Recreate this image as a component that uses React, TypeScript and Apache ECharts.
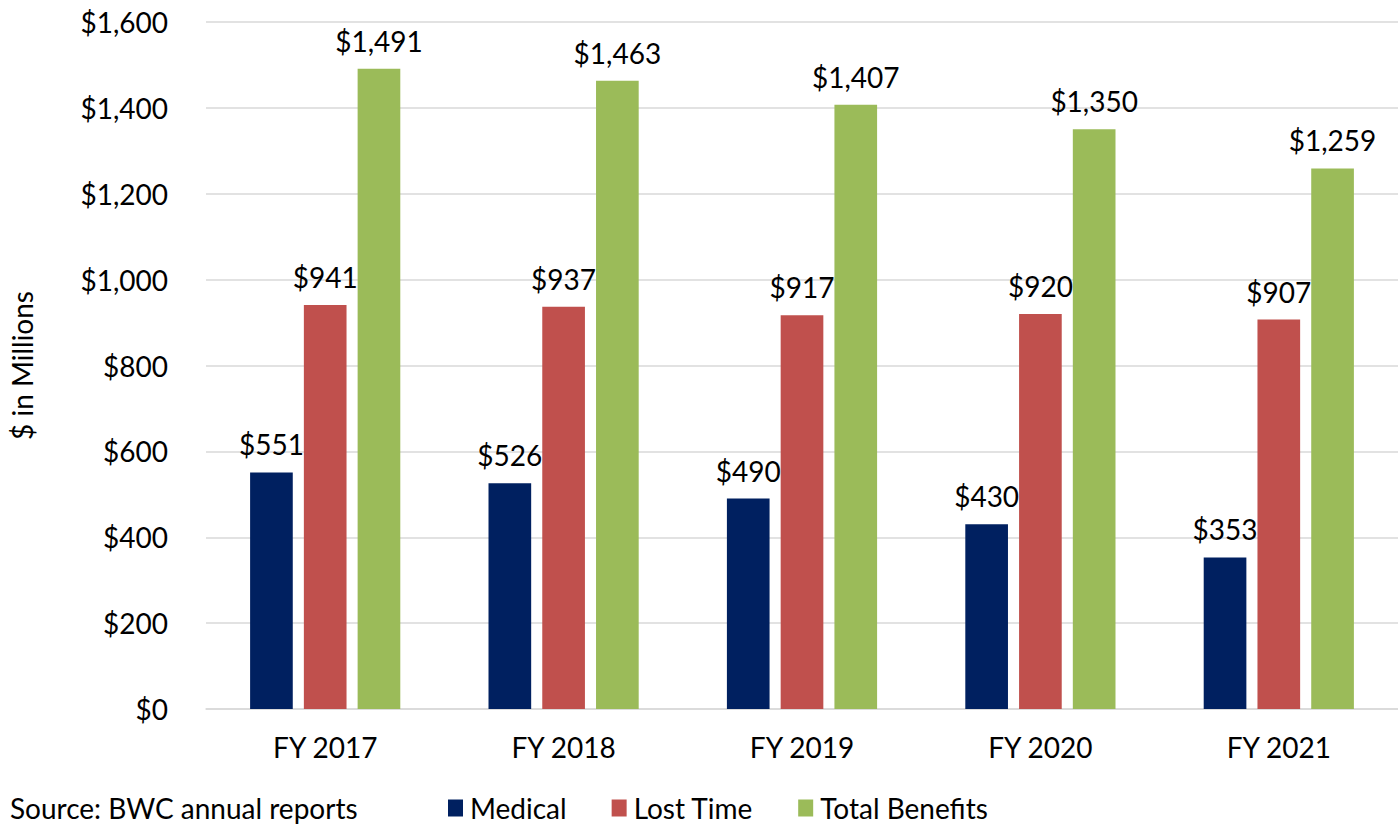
import React, { useEffect, useRef } from "react";
import * as echarts from "echarts";

const categories = ["FY 2017", "FY 2018", "FY 2019", "FY 2020", "FY 2021"];
const medical = [551, 526, 490, 430, 353];
const lostTime = [941, 937, 917, 920, 907];
const totalBenefits = [1491, 1463, 1407, 1350, 1259];
const seriesNames = ["Medical", "Lost Time", "Total Benefits"];
const colors = ["#002060", "#C0504D", "#9BBB59"];
const sourceText = "Source: BWC annual reports";
const yAxisName = "$ in Millions";

const FONT = "Lato, 'Open Sans', sans-serif";
const fmt = (v: number) => "$" + v.toLocaleString("en-US");

export default function App() {
  const ref = useRef<HTMLDivElement>(null);
  useEffect(() => {
    if (!ref.current) return;
    const chart = echarts.init(ref.current, null, { renderer: "svg" });
    const data = [medical, lostTime, totalBenefits];
    chart.setOption({
      animation: false,
      backgroundColor: "#ffffff",
      textStyle: { fontFamily: FONT },
      grid: { left: 206, right: 0, top: 22, bottom: 120 },
      legend: {
        data: seriesNames,
        left: 448,
        top: 794,
        padding: 0,
        itemWidth: 15,
        itemHeight: 17,
        itemGap: 45,
        icon: "rect",
        textStyle: { fontFamily: FONT, fontSize: 28, color: "#000", padding: [0, 0, 0, 2] },
      },
      graphic: [
        {
          type: "text",
          left: 10,
          top: 794,
          style: { text: sourceText, font: `28px ${FONT}`, fill: "#000" },
        },
      ],
      xAxis: {
        type: "category",
        data: categories,
        axisLine: { lineStyle: { color: "#d9d9d9", width: 1.5 } },
        axisTick: { show: false },
        axisLabel: { fontSize: 28, color: "#000", margin: 24, fontFamily: FONT },
      },
      yAxis: {
        type: "value",
        min: 0,
        max: 1600,
        interval: 200,
        name: yAxisName,
        nameLocation: "middle",
        nameGap: 170,
        nameTextStyle: { fontSize: 28, color: "#000", fontFamily: FONT },
        axisLine: { show: false },
        axisTick: { show: false },
        axisLabel: {
          fontSize: 28,
          color: "#000",
          margin: 38,
          fontFamily: FONT,
          formatter: (v: number) => fmt(v),
        },
        splitLine: { lineStyle: { color: "#d9d9d9", width: 1.5 } },
      },
      series: seriesNames.map((name, i) => ({
        name,
        type: "bar",
        data: data[i],
        itemStyle: { color: colors[i] },
        barGap: "26%",
        barCategoryGap: "37%",
        label: {
          show: true,
          position: "top",
          distance: 14,
          fontSize: 28,
          color: "#000",
          fontFamily: FONT,
          formatter: (p: any) => fmt(p.value),
        },
      })),
    });
    return () => chart.dispose();
  }, []);
  return (
    <div
      ref={ref}
      style={{ position: "fixed", left: 0, top: 0, width: 1398, height: 829 }}
    />
  );
}
